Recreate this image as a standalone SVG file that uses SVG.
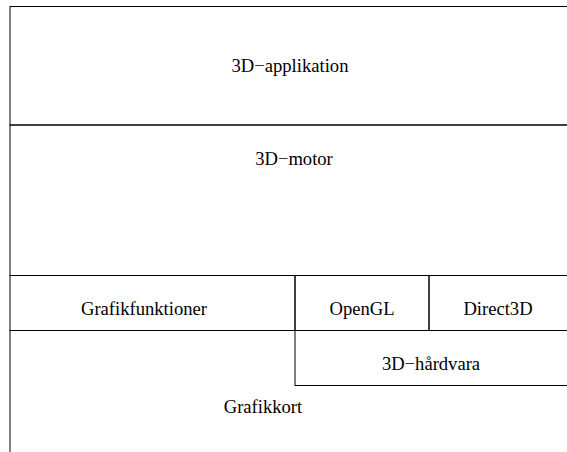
<svg xmlns="http://www.w3.org/2000/svg" width="567" height="452" viewBox="0 0 567 452">
<style>
.box{fill:none;stroke:#000;stroke-width:1}
text{font-family:'Liberation Serif','Times New Roman',serif;font-size:18.6px;fill:#000;text-anchor:middle}
</style>
<rect width="567" height="452" fill="#fff"/>
<g id="app"><rect class="box" x="10" y="6.5" width="600" height="118.5"/><text x="290" y="72">3D−applikation</text></g>
<g id="motor"><rect class="box" x="10" y="125" width="600" height="150.5"/><text x="294" y="165">3D−motor</text></g>
<g id="grafikkort"><rect class="box" x="10" y="330.5" width="600" height="200"/><text x="263" y="413">Grafikkort</text></g>
<g id="grafikfunktioner"><rect class="box" x="10" y="275.5" width="285" height="55"/><text x="144" y="315">Grafikfunktioner</text></g>
<g id="opengl"><rect class="box" x="295" y="275.5" width="134" height="55"/><text x="362" y="315">OpenGL</text></g>
<g id="direct3d"><rect class="box" x="429" y="275.5" width="200" height="55"/><text x="498" y="315">Direct3D</text></g>
<g id="hardvara"><rect class="box" x="295" y="330.5" width="300" height="55"/><text x="431" y="370">3D−hårdvara</text></g>
<g id="connectors"></g>
</svg>
